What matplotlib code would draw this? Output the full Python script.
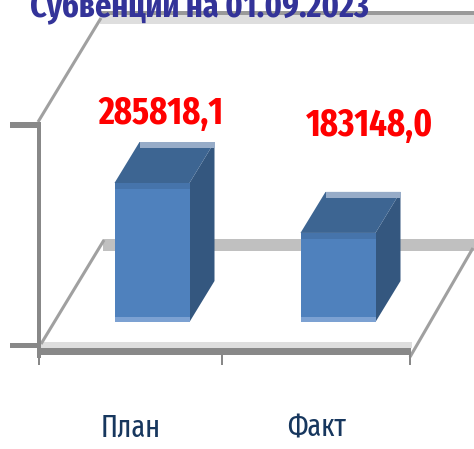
import matplotlib
matplotlib.use('Agg')
import matplotlib.pyplot as plt
from matplotlib.patches import Polygon, Rectangle

# ---------------- data ----------------
categories = ['План', 'Факт']
values = [285818.1, 183148.0]
value_labels = ['285818,1', '183148,0']
title_text = 'Субвенции на 01.09.2023'

# ---------------- layout constants (pixels) ----------------
W, H, DPI = 474, 449, 100
CAT_PX = 186.0                     # px between categories
VAL_PER_PX = 285818.1 / 139.0      # value units per px
X0 = 130.5                         # px x of category 0 on front floor
Y0 = 345.0                         # px y (from top) of value 0 on front floor

FONT_NARROW = ['Fira Sans Extra Condensed', 'DejaVu Sans']

fig = plt.figure(figsize=(W / DPI, H / DPI), dpi=DPI)
ax = fig.add_axes([0, 0, 1, 1])
ax.set_xlim(-X0 / CAT_PX, (W - X0) / CAT_PX)
ax.set_ylim(-(H - Y0) * VAL_PER_PX, Y0 * VAL_PER_PX)
ax.set_axis_off()


def P(x, y):
    """pixel position -> data coordinates"""
    return ((x - X0) / CAT_PX, (Y0 - y) * VAL_PER_PX)


def band(x1, x2, y1, y2, color, z=1):
    pts = [P(x1, y1), P(x2, y1), P(x2, y2), P(x1, y2)]
    ax.add_patch(Polygon(pts, closed=True, facecolor=color, edgecolor='none', zorder=z))


def line(pts, color, lw, z=2, ls='-'):
    xs, ys = zip(*[P(*p) for p in pts])
    ax.plot(xs, ys, color=color, lw=lw, ls=ls, solid_capstyle='butt', zorder=z)


# ---------------- walls / gridlines ----------------
band(100, 474, 11, 15, '#9a9a9a')
band(100, 474, 15, 24, '#dedede')
band(103, 474, 239, 251, '#c0c0c0')
line([(38, 122), (101, 18)], '#a0a0a0', 2.2)
line([(41, 344), (104, 240)], '#a0a0a0', 2.2)
line([(410, 357), (473, 248)], '#a0a0a0', 2.2)
band(40, 412, 342, 348, '#dedede')
band(38, 410, 348, 355, '#888888', z=3)
band(37, 41, 122, 358, '#888888', z=3)
band(10, 40, 122, 128, '#888888', z=3)
band(10, 40, 343, 348, '#888888', z=3)
for tx in (39, 222, 410):
    band(tx - 1, tx + 1, 348, 365, '#888888', z=3)

# ---------------- bars ----------------
BAR_DX = 21.5 / CAT_PX
BAR_DY = 23 * VAL_PER_PX
HW = 37.5 / CAT_PX
DDX = 25 / CAT_PX
DDY = 41 * VAL_PER_PX
STRIP = 5 * VAL_PER_PX

for i, v in enumerate(values):
    xl = i + BAR_DX - HW
    xr = i + BAR_DX + HW
    yb = BAR_DY
    yt = BAR_DY + v
    ax.add_patch(Polygon([(xr, yb), (xr + DDX, yb + DDY), (xr + DDX, yt + DDY), (xr, yt)],
                         facecolor='#34577f', edgecolor='none', zorder=5))
    ax.add_patch(Polygon([(xl, yt), (xr, yt), (xr + DDX, yt + DDY), (xl + DDX, yt + DDY)],
                         facecolor='#3d6592', edgecolor='none', zorder=5))
    ax.add_patch(Polygon([(xl + DDX, yt + DDY - STRIP * 1.2), (xr + DDX, yt + DDY - STRIP * 1.2),
                          (xr + DDX, yt + DDY), (xl + DDX, yt + DDY)],
                         facecolor='#97acc8', edgecolor='none', zorder=5))
    ax.add_patch(Rectangle((xl, yb), xr - xl, v, facecolor='#4f81bd', edgecolor='none', zorder=6))
    ax.add_patch(Rectangle((xl, yt - STRIP * 1.2), xr - xl, STRIP * 1.2,
                           facecolor='#4674ab', edgecolor='none', zorder=6))
    ax.add_patch(Rectangle((xl, yb), xr - xl, STRIP * 1.1,
                           facecolor='#7ca1d2', edgecolor='none', zorder=6))

# ---------------- value labels ----------------
LABEL_POS = [(161, 114), (370, 126)]
for (lx, ly), txt in zip(LABEL_POS, value_labels):
    x, y = P(lx, ly)
    ax.text(x, y, txt, ha='center', va='center', color='#ff0000',
            fontsize=27, fontweight='bold', family=FONT_NARROW, zorder=10)

# ---------------- category labels ----------------
for i, c in enumerate(categories):
    x, y = P(X0 + i * CAT_PX, 428)
    ax.text(x, y, c, ha='center', va='center', color='#17375e',
            fontsize=22, family=FONT_NARROW, zorder=10)

# ---------------- title ----------------
fig.text(30 / W, 1 - 17 / H, title_text, ha='left', va='baseline', color='#333399',
         fontsize=25, fontweight='bold', family=FONT_NARROW)

fig.savefig('out.png', dpi=DPI)
